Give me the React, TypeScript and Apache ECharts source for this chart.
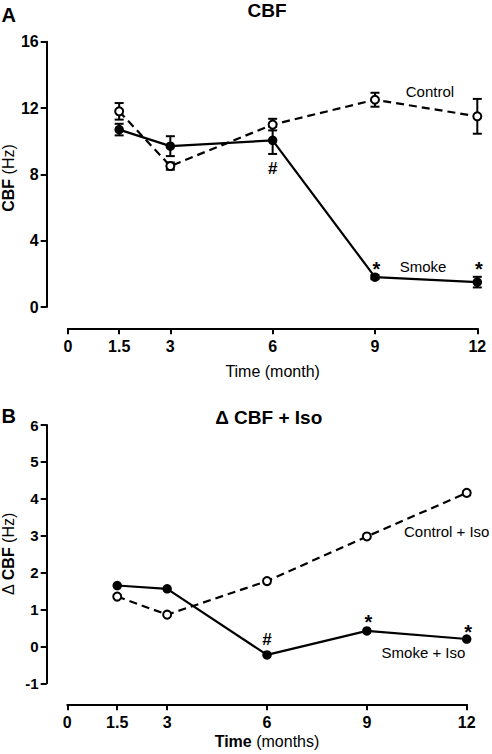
import React, { useEffect, useRef } from "react";
import * as echarts from "echarts";

const FONT = "'Liberation Sans', Arial, Helvetica, sans-serif";

// ---- data ----
const months = [1.5, 3, 6, 9, 12];
const timeTicks = [0, 1.5, 3, 6, 9, 12];

const cbfControl = [11.8, 8.5, 11.0, 12.5, 11.5];
const cbfControlErr = [0.5, 0.22, 0.35, 0.42, 1.05];
const cbfSmoke = [10.7, 9.7, 10.05, 1.8, 1.5];
const cbfSmokeErr = [0.35, 0.6, 0.82, 0.12, 0.32];
const cbfSmokeMarks = ["", "", "#", "*", "*"];

const isoControl = [1.35, 0.86, 1.77, 2.98, 4.16];
const isoSmoke = [1.65, 1.56, -0.23, 0.42, 0.2];
const isoSmokeMarks = ["", "", "#", "*", "*"];

const cbfYTicks = { min: 0, max: 16, interval: 4 };
const isoYTicks = { min: -1, max: 6, interval: 1 };

function errorBars(axis: number, means: number[], errs: number[]) {
  return {
    type: "custom",
    xAxisIndex: axis,
    yAxisIndex: axis,
    z: 1,
    silent: true,
    data: months.map((m, i) => [m, means[i] - errs[i], means[i] + errs[i]]),
    renderItem: (_p: any, api: any) => {
      const x = api.value(0);
      const lo = api.coord([x, api.value(1)]);
      const hi = api.coord([x, api.value(2)]);
      const w = 4.5;
      const st = { stroke: "#000", lineWidth: 2 };
      return {
        type: "group",
        children: [
          { type: "line", shape: { x1: lo[0], y1: lo[1], x2: hi[0], y2: hi[1] }, style: st },
          { type: "line", shape: { x1: lo[0] - w, y1: lo[1], x2: lo[0] + w, y2: lo[1] }, style: st },
          { type: "line", shape: { x1: hi[0] - w, y1: hi[1], x2: hi[0] + w, y2: hi[1] }, style: st },
        ],
      };
    },
  };
}

function lineSeries(
  axis: number,
  name: string,
  values: number[],
  open: boolean,
  marks?: string[],
  markOffsets?: (number[] | null)[]
) {
  return {
    type: "line",
    name,
    xAxisIndex: axis,
    yAxisIndex: axis,
    z: 3,
    silent: true,
    symbol: "circle",
    symbolSize: open ? 8 : 9.5,
    itemStyle: open
      ? { color: "#fff", borderColor: "#000", borderWidth: 2, opacity: 1 }
      : { color: "#000", borderColor: "#000", borderWidth: 0, opacity: 1 },
    lineStyle: { color: "#000", width: 2.2, type: open ? [8, 5] : "solid" },
    data: months.map((m, i) => {
      const mk = marks ? marks[i] : "";
      const item: any = { value: [m, values[i]] };
      if (mk) {
        item.label = {
          show: true,
          position: "inside",
          formatter: mk,
          offset: markOffsets && markOffsets[i] ? markOffsets[i] : [0, 0],
          color: "#000",
          opacity: 1,
          textBorderWidth: 0,
          textBorderColor: "transparent",
          fontFamily: FONT,
          fontWeight: "bold",
          fontSize: mk === "*" ? 20 : 17,
        };
      }
      return item;
    }),
  };
}

function nameLabels(axis: number, items: { name: string; value: number[] }[]) {
  return {
    type: "scatter",
    xAxisIndex: axis,
    yAxisIndex: axis,
    symbolSize: 0,
    silent: true,
    z: 4,
    itemStyle: { color: "#000", opacity: 1 },
    data: items,
    label: {
      show: true,
      position: "inside",
      formatter: "{b}",
      color: "#000",
      opacity: 1,
      textBorderWidth: 0,
      textBorderColor: "transparent",
      fontFamily: FONT,
      fontSize: 15,
    },
  };
}

const axisLineStyle = { color: "#000", width: 2 };

function richStyles(size: number) {
  return {
    b: { fontWeight: "bold", fontSize: size, fontFamily: FONT, fill: "#000", color: "#000" },
    n: { fontWeight: "normal", fontSize: size, fontFamily: FONT, fill: "#000", color: "#000" },
  };
}

function xAxisCfg(grid: number, offset: number, name: string, nameGap: number) {
  return {
    gridIndex: grid,
    type: "value",
    min: 0,
    max: 12,
    position: "bottom",
    offset,
    splitLine: { show: false },
    axisLine: { show: true, onZero: false, lineStyle: axisLineStyle },
    axisTick: { show: true, customValues: timeTicks, length: 6, lineStyle: axisLineStyle },
    axisLabel: {
      customValues: timeTicks,
      margin: 10,
      color: "#000",
      fontFamily: FONT,
      fontWeight: "bold",
      fontSize: 16,
    },
    name,
    nameLocation: "middle",
    nameGap,
    nameTextStyle: {
      color: "#000",
      fontFamily: FONT,
      fontSize: 16,
      rich: richStyles(16),
    },
  };
}

function yAxisCfg(
  grid: number,
  offset: number,
  ticks: { min: number; max: number; interval: number },
  labelSize: number
) {
  return {
    gridIndex: grid,
    type: "value",
    min: ticks.min,
    max: ticks.max,
    interval: ticks.interval,
    position: "left",
    offset,
    splitLine: { show: false },
    axisLine: { show: true, onZero: false, lineStyle: axisLineStyle },
    axisTick: { show: true, length: 6, lineStyle: axisLineStyle },
    axisLabel: {
      margin: 8,
      color: "#000",
      fontFamily: FONT,
      fontWeight: "bold",
      fontSize: labelSize,
    },
  };
}

function yName(text: string, x: number, y: number) {
  return {
    type: "text",
    x,
    y,
    rotation: Math.PI / 2,
    style: {
      text,
      align: "center",
      verticalAlign: "middle",
      font: `16px ${FONT}`,
      fill: "#000",
      rich: richStyles(16),
    },
  };
}

export default function App() {
  const ref = useRef<HTMLDivElement>(null);
  useEffect(() => {
    if (!ref.current) return;
    const chart = echarts.init(ref.current, undefined, { renderer: "svg" });
    const option: any = {
      animation: false,
      backgroundColor: "#fff",
      grid: [
        { left: 68, right: 14.7, top: 41.7, bottom: 447, outerBoundsMode: "none" },
        { left: 67.3, right: 25.3, top: 425, bottom: 70.7, outerBoundsMode: "none" },
      ],
      xAxis: [
        xAxisCfg(0, 21.3, "{n|Time (month)}", 35),
        xAxisCfg(1, 21, "{b|Time}{n| (months)}", 29),
      ],
      yAxis: [yAxisCfg(0, 21.3, cbfYTicks, 16), yAxisCfg(1, 20.6, isoYTicks, 15)],
      graphic: [
        { type: "text", x: 1.5, y: 14.5, style: { text: "A", font: `bold 20px ${FONT}`, fill: "#000", verticalAlign: "middle" } },
        { type: "text", x: 267, y: 10, style: { text: "CBF", font: `bold 19px ${FONT}`, fill: "#000", align: "center", verticalAlign: "middle" } },
        { type: "text", x: 1.5, y: 416.3, style: { text: "B", font: `bold 20px ${FONT}`, fill: "#000", verticalAlign: "middle" } },
        { type: "text", x: 268.7, y: 417.5, style: { text: "\u0394 CBF + Iso", font: `bold 19px ${FONT}`, fill: "#000", align: "center", verticalAlign: "middle" } },
        yName("{b|CBF}{n| (Hz)}", 8, 178),
        yName("{n|\u0394 }{b|CBF}{n| (Hz)}", 8, 554),
      ],
      series: [
        errorBars(0, cbfControl, cbfControlErr),
        errorBars(0, cbfSmoke, cbfSmokeErr),
        lineSeries(0, "Control", cbfControl, true),
        lineSeries(0, "Smoke", cbfSmoke, false, cbfSmokeMarks, [null, null, [0, 28], [1.5, -8.3], [1.5, -12.9]]),
        nameLabels(0, [
          { name: "Control", value: [10.61, 12.99] },
          { name: "Smoke", value: [10.41, 2.43] },
        ]),
        lineSeries(1, "Control + Iso", isoControl, true),
        lineSeries(1, "Smoke + Iso", isoSmoke, false, isoSmokeMarks, [null, null, [0, -15.3], [1.5, -8.8], [1.5, -7.1]]),
        nameLabels(1, [
          { name: "Control + Iso", value: [11.4, 3.11] },
          { name: "Smoke + Iso", value: [10.7, -0.17] },
        ]),
      ],
    };
    chart.setOption(option);
    return () => chart.dispose();
  }, []);
  return (
    <div
      ref={ref}
      style={{ position: "absolute", left: 0, top: 0, width: 492, height: 754, background: "#fff" }}
    />
  );
}
